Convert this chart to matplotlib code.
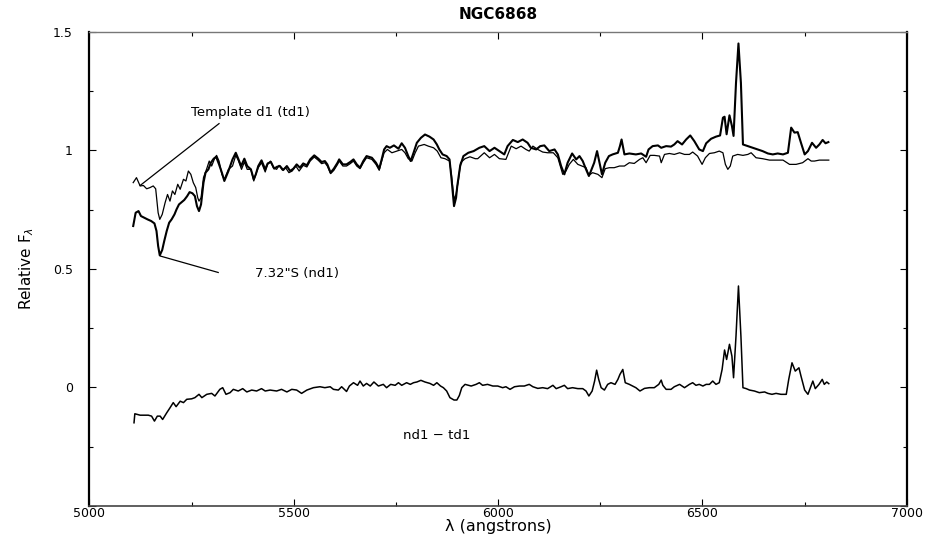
import matplotlib.pyplot as plt
from matplotlib.ticker import MultipleLocator

# espectro observado 7.32"S (nd1)
nd1_wave = [5107, 5113, 5120, 5126, 5134, 5142, 5151, 5159, 5164, 5168, 5172, 5178, 5183, 5189,
            5195, 5201, 5208, 5213, 5219, 5226, 5232, 5239, 5245, 5252, 5258, 5263, 5268, 5273,
            5279, 5284, 5291, 5297, 5304, 5310, 5317, 5324, 5330, 5340, 5350, 5358, 5364, 5371,
            5379, 5386, 5395, 5402, 5407, 5413, 5421, 5430, 5436, 5444, 5452, 5459, 5466, 5474,
            5483, 5491, 5499, 5507, 5515, 5523, 5532, 5540, 5550, 5560, 5568, 5576, 5582, 5590,
            5598, 5607, 5611, 5620, 5629, 5638, 5646, 5654, 5662, 5670, 5678, 5691, 5701, 5709,
            5715, 5721, 5727, 5735, 5745, 5756, 5764, 5772, 5780, 5786, 5793, 5801, 5811, 5821,
            5832, 5842, 5850, 5856, 5864, 5874, 5881, 5886, 5892, 5897, 5900, 5907, 5915, 5927,
            5940, 5954, 5966, 5979, 5991, 6003, 6015, 6023, 6036, 6048, 6060, 6072, 6080, 6093,
            6103, 6113, 6125, 6138, 6146, 6154, 6162, 6170, 6181, 6191, 6199, 6207, 6215, 6222,
            6227, 6235, 6242, 6248, 6254, 6262, 6271, 6280, 6293, 6298, 6302, 6309, 6321, 6337,
            6350, 6362, 6368, 6378, 6391, 6399, 6411, 6423, 6431, 6439, 6450, 6460, 6470, 6480,
            6492, 6501, 6509, 6521, 6533, 6543, 6550, 6554, 6559, 6566, 6572, 6576, 6582, 6588,
            6594, 6599, 6611, 6623, 6635, 6647, 6660, 6672, 6684, 6697, 6709, 6717, 6725, 6733,
            6741, 6750, 6758, 6768, 6778, 6786, 6794, 6801, 6808]
nd1_flux = [0.681, 0.737, 0.744, 0.723, 0.716, 0.709, 0.702, 0.692, 0.660, 0.597, 0.557, 0.580, 0.618, 0.660,
            0.695, 0.709, 0.730, 0.751, 0.772, 0.782, 0.791, 0.807, 0.824, 0.819, 0.807, 0.765, 0.744, 0.772,
            0.864, 0.906, 0.920, 0.948, 0.965, 0.973, 0.941, 0.906, 0.871, 0.913, 0.962, 0.990, 0.965, 0.934,
            0.965, 0.934, 0.920, 0.878, 0.899, 0.934, 0.958, 0.920, 0.945, 0.951, 0.923, 0.931, 0.934, 0.917,
            0.934, 0.913, 0.923, 0.941, 0.927, 0.945, 0.937, 0.962, 0.979, 0.965, 0.951, 0.955, 0.941, 0.906,
            0.923, 0.948, 0.962, 0.941, 0.941, 0.951, 0.962, 0.941, 0.927, 0.955, 0.976, 0.969, 0.948, 0.923,
            0.962, 1.004, 1.018, 1.011, 1.021, 1.007, 1.030, 1.011, 0.976, 0.955, 0.990, 1.032, 1.053, 1.067,
            1.058, 1.046, 1.025, 1.004, 0.983, 0.976, 0.962, 0.878, 0.765, 0.800, 0.850, 0.934, 0.976, 0.990,
            0.997, 1.011, 1.018, 0.997, 1.011, 0.997, 0.983, 1.018, 1.044, 1.035, 1.046, 1.032, 1.011, 1.004,
            1.018, 1.021, 0.997, 1.004, 0.983, 0.934, 0.899, 0.948, 0.987, 0.962, 0.976, 0.955, 0.920, 0.892,
            0.913, 0.948, 0.997, 0.948, 0.899, 0.948, 0.976, 0.983, 0.990, 1.018, 1.046, 0.983, 0.987, 0.983,
            0.987, 0.973, 1.004, 1.018, 1.021, 1.011, 1.018, 1.016, 1.025, 1.039, 1.025, 1.046, 1.063, 1.039,
            1.004, 0.997, 1.030, 1.049, 1.058, 1.063, 1.138, 1.142, 1.068, 1.148, 1.103, 1.061, 1.285, 1.451,
            1.285, 1.025, 1.018, 1.011, 1.004, 0.997, 0.987, 0.983, 0.987, 0.983, 0.990, 1.096, 1.075, 1.077,
            1.032, 0.983, 0.997, 1.032, 1.011, 1.025, 1.044, 1.030, 1.035]

# template d1 (td1)
td1_wave = [5107, 5115, 5124, 5132, 5140, 5148, 5156, 5162, 5168, 5172, 5178, 5185, 5191, 5197,
            5203, 5209, 5216, 5222, 5230, 5236, 5242, 5248, 5254, 5260, 5265, 5268, 5273, 5279,
            5287, 5293, 5299, 5306, 5311, 5317, 5324, 5330, 5340, 5350, 5358, 5364, 5372, 5379,
            5386, 5395, 5402, 5407, 5413, 5421, 5430, 5436, 5443, 5450, 5458, 5464, 5472, 5480,
            5488, 5496, 5505, 5513, 5523, 5532, 5540, 5550, 5560, 5568, 5576, 5582, 5590, 5598,
            5607, 5611, 5620, 5629, 5638, 5646, 5654, 5662, 5670, 5678, 5691, 5701, 5709, 5715,
            5721, 5729, 5740, 5752, 5764, 5772, 5780, 5789, 5797, 5805, 5819, 5829, 5842, 5851,
            5860, 5870, 5881, 5886, 5892, 5897, 5903, 5908, 5919, 5931, 5944, 5950, 5966, 5979,
            5991, 6003, 6019, 6032, 6044, 6056, 6068, 6076, 6085, 6097, 6109, 6121, 6135, 6146,
            6158, 6166, 6174, 6184, 6195, 6205, 6215, 6222, 6231, 6244, 6254, 6262, 6272, 6284,
            6297, 6309, 6321, 6333, 6346, 6354, 6362, 6372, 6382, 6395, 6399, 6407, 6419, 6431,
            6444, 6456, 6468, 6476, 6488, 6499, 6507, 6517, 6529, 6541, 6550, 6556, 6562, 6568,
            6574, 6586, 6599, 6611, 6619, 6631, 6647, 6664, 6680, 6697, 6713, 6729, 6745, 6758,
            6766, 6774, 6786, 6798, 6809]
td1_flux = [0.864, 0.885, 0.850, 0.852, 0.838, 0.843, 0.850, 0.838, 0.737, 0.709, 0.730, 0.779, 0.814, 0.786,
            0.829, 0.814, 0.857, 0.836, 0.878, 0.871, 0.913, 0.899, 0.864, 0.843, 0.800, 0.786, 0.800, 0.885,
            0.923, 0.955, 0.934, 0.965, 0.979, 0.955, 0.899, 0.878, 0.920, 0.934, 0.979, 0.959, 0.920, 0.951,
            0.920, 0.920, 0.871, 0.899, 0.927, 0.948, 0.909, 0.941, 0.955, 0.927, 0.920, 0.937, 0.917, 0.927,
            0.906, 0.913, 0.934, 0.913, 0.937, 0.930, 0.955, 0.972, 0.958, 0.944, 0.948, 0.934, 0.902, 0.916,
            0.941, 0.955, 0.934, 0.934, 0.944, 0.955, 0.934, 0.923, 0.948, 0.969, 0.962, 0.941, 0.916, 0.955,
            0.990, 1.004, 0.990, 0.997, 1.004, 0.990, 0.965, 0.955, 0.990, 1.018, 1.025, 1.018, 1.011, 0.997,
            0.969, 0.965, 0.955, 0.892, 0.793, 0.814, 0.878, 0.948, 0.965, 0.973, 0.965, 0.965, 0.990, 0.969,
            0.983, 0.965, 0.962, 1.018, 1.007, 1.018, 1.004, 0.997, 1.018, 1.004, 0.993, 0.990, 0.990, 0.969,
            0.899, 0.913, 0.941, 0.962, 0.941, 0.934, 0.927, 0.895, 0.906, 0.899, 0.885, 0.923, 0.927, 0.927,
            0.934, 0.934, 0.948, 0.945, 0.962, 0.969, 0.948, 0.979, 0.979, 0.976, 0.948, 0.983, 0.987, 0.983,
            0.990, 0.983, 0.983, 0.993, 0.976, 0.941, 0.969, 0.987, 0.990, 0.997, 0.990, 0.941, 0.920, 0.934,
            0.976, 0.983, 0.979, 0.983, 0.990, 0.969, 0.965, 0.959, 0.959, 0.959, 0.941, 0.941, 0.948, 0.965,
            0.955, 0.955, 0.959, 0.959, 0.959]

# diferenca nd1 - td1
dif_wave = [5109, 5111, 5124, 5144, 5152, 5159, 5166, 5173, 5179, 5189, 5197, 5205, 5212, 5222,
            5230, 5238, 5250, 5258, 5268, 5275, 5287, 5299, 5307, 5319, 5326, 5334, 5344, 5352,
            5364, 5375, 5385, 5397, 5409, 5421, 5430, 5442, 5458, 5470, 5483, 5495, 5507, 5519,
            5532, 5548, 5564, 5576, 5589, 5597, 5609, 5617, 5629, 5636, 5646, 5656, 5662, 5670,
            5678, 5687, 5696, 5707, 5719, 5727, 5737, 5748, 5756, 5764, 5776, 5785, 5793, 5801,
            5811, 5821, 5833, 5842, 5850, 5859, 5866, 5874, 5882, 5892, 5899, 5905, 5911, 5919,
            5934, 5946, 5954, 5962, 5974, 5987, 5999, 6011, 6019, 6029, 6040, 6052, 6064, 6076,
            6085, 6097, 6109, 6121, 6134, 6142, 6154, 6162, 6170, 6182, 6195, 6207, 6215, 6222,
            6230, 6236, 6241, 6246, 6252, 6260, 6268, 6276, 6286, 6293, 6298, 6305, 6311, 6321,
            6329, 6337, 6347, 6358, 6370, 6382, 6393, 6399, 6403, 6411, 6423, 6431, 6444, 6456,
            6468, 6476, 6484, 6492, 6501, 6509, 6517, 6525, 6533, 6541, 6548, 6554, 6559, 6566,
            6572, 6576, 6582, 6588, 6594, 6599, 6607, 6615, 6627, 6639, 6652, 6660, 6670, 6680,
            6692, 6705, 6711, 6719, 6727, 6736, 6741, 6750, 6758, 6764, 6770, 6776, 6785, 6793,
            6798, 6804, 6809]
dif_flux = [-0.149, -0.111, -0.117, -0.117, -0.121, -0.142, -0.121, -0.121, -0.135, -0.107, -0.086, -0.064, -0.081, -0.058,
            -0.064, -0.050, -0.048, -0.043, -0.029, -0.043, -0.029, -0.025, -0.036, -0.008, -0.001, -0.029, -0.022, -0.008,
            -0.015, -0.005, -0.019, -0.011, -0.015, -0.005, -0.015, -0.011, -0.015, -0.008, -0.019, -0.008, -0.011, -0.025,
            -0.011, -0.001, 0.003, -0.001, 0.003, -0.008, -0.011, 0.003, -0.017, 0.006, 0.020, 0.009, 0.027, 0.006,
            0.017, 0.006, 0.023, 0.006, 0.013, -0.001, 0.013, 0.009, 0.020, 0.009, 0.020, 0.013, 0.020, 0.023,
            0.030, 0.023, 0.017, 0.009, 0.020, 0.006, -0.001, -0.015, -0.043, -0.053, -0.053, -0.034, -0.001, 0.013,
            0.006, 0.013, 0.020, 0.009, 0.013, 0.006, 0.006, -0.001, 0.003, -0.008, 0.003, 0.006, 0.006, 0.013,
            0.003, -0.004, -0.001, -0.005, 0.009, -0.005, 0.003, 0.009, -0.005, -0.001, -0.005, -0.005, -0.015, -0.036,
            -0.015, 0.027, 0.073, 0.034, -0.001, -0.011, 0.013, 0.020, 0.013, 0.034, 0.055, 0.076, 0.020, 0.013,
            0.006, -0.001, -0.015, -0.004, -0.001, -0.001, 0.013, 0.031, 0.009, -0.008, -0.008, 0.003, 0.013, -0.001,
            0.013, 0.020, 0.009, 0.013, 0.006, 0.013, 0.013, 0.027, 0.013, 0.020, 0.076, 0.158, 0.118, 0.182,
            0.132, 0.041, 0.217, 0.428, 0.217, -0.001, -0.005, -0.011, -0.015, -0.022, -0.019, -0.025, -0.029, -0.025,
            -0.029, -0.029, 0.034, 0.104, 0.069, 0.083, 0.048, -0.011, -0.029, -0.001, 0.027, -0.005, 0.013, 0.034,
            0.013, 0.023, 0.016]

plt.rcParams['font.family'] = ['DejaVu Sans']

fig = plt.figure(figsize=(9.32, 5.4), dpi=100)
ax = fig.add_axes([0.096, 0.063, 0.877, 0.878])

ax.plot(td1_wave, td1_flux, color='black', lw=0.9)
ax.plot(nd1_wave, nd1_flux, color='black', lw=1.5)
ax.plot(dif_wave, dif_flux, color='black', lw=1.1)

ax.set_xlim(5000, 7000)
ax.set_ylim(-0.5, 1.5)
ax.xaxis.set_minor_locator(MultipleLocator(250))
ax.yaxis.set_minor_locator(MultipleLocator(0.25))
ax.set_xticks([5000, 5500, 6000, 6500, 7000])
ax.set_xticklabels(['5000', '5500', '6000', '6500', '7000'])
ax.set_yticks([-0.5, 0, 0.5, 1, 1.5])
ax.set_yticklabels(['', '0', '0.5', '1', '1.5'])
ax.tick_params(which='both', direction='in', top=True, right=True, labelsize=9, width=0.8)
ax.tick_params(which='major', length=5)
ax.tick_params(axis='x', which='major', pad=1)
ax.tick_params(axis='y', which='major', pad=12)
ax.tick_params(which='minor', length=3)

for s in ['left', 'right']:
    ax.spines[s].set_linewidth(1.6)
ax.spines['top'].set_color('#777777')
ax.spines['top'].set_linewidth(1.0)
ax.spines['bottom'].set_color('#444444')
ax.spines['bottom'].set_linewidth(1.2)

ax.set_title('NGC6868', fontsize=11, fontweight='bold', pad=9)
fig.text(0.535, 0.025, '\u03bb (angstrons)', fontsize=11.5, ha='center', va='center')
ax.set_ylabel(r'Relative F$_\lambda$', fontsize=11, labelpad=12)

# anotacoes
ax.plot([5124, 5317], [0.852, 1.113], color='black', lw=0.9)
ax.text(5395, 1.161, 'Template d1 (td1)', fontsize=9.5, ha='center', va='center')
ax.plot([5174, 5315], [0.554, 0.485], color='black', lw=0.9)
ax.text(5508, 0.481, '7.32"S (nd1)', fontsize=9.5, ha='center', va='center')
ax.text(5849, -0.201, 'nd1 \u2212 td1', fontsize=9.5, ha='center', va='center')

fig.savefig('out.png', dpi=100)
